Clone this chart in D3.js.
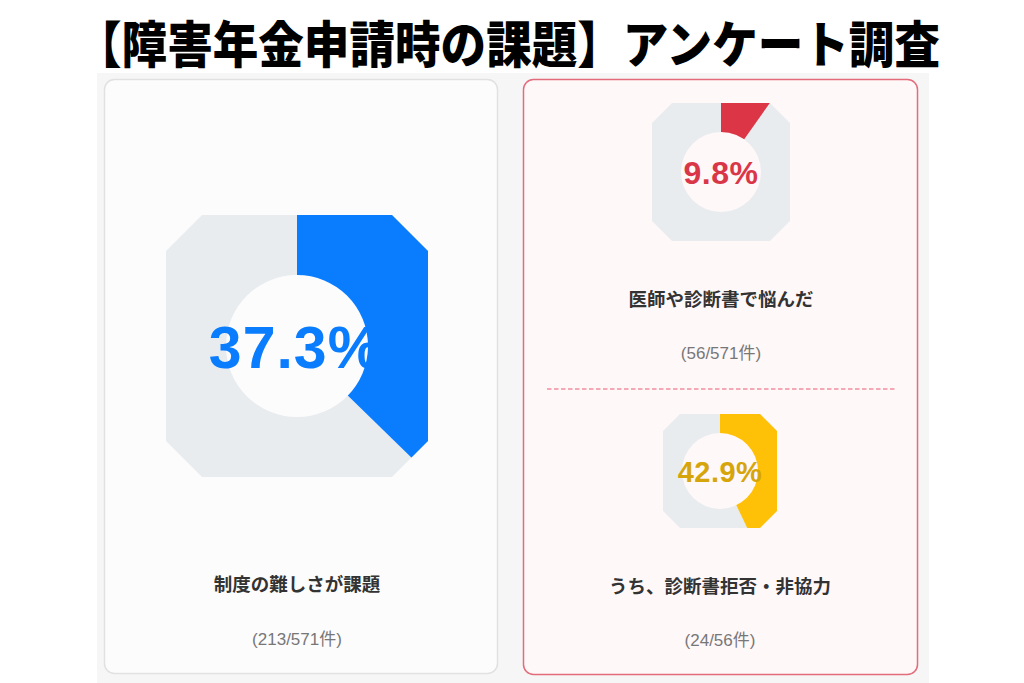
<!DOCTYPE html>
<html>
<head>
<meta charset="utf-8">
<script src="https://cdn.jsdelivr.net/npm/d3@7"></script>
<style>
  body { margin: 0; background: #fff; }
  svg { display: block; }
</style>
</head>
<body>
<svg id="chart" width="1024" height="683"></svg>
<script>
// data
var title = "【障害年金申請時の課題】アンケート調査";
var labels = ["制度の難しさが課題", "医師や診断書で悩んだ", "うち、診断書拒否・非協力"];
var counts = ["(213/571件)", "(56/571件)", "(24/56件)"];
var percents = [37.3, 9.8, 42.9];
var colors = ["#0a7dff", "#dc3545", "#ffc107"];
var textColors = ["#0a7dff", "#d93748", "#d6a50c"];

var svg = d3.select("#chart");
var font = "'Noto Sans CJK JP', 'Noto Sans', sans-serif";
var numFont = "'Liberation Sans', Arial, 'Noto Sans CJK JP', sans-serif";

// grey backdrop
svg.append("rect")
	.attr("x", 97).attr("y", 73)
	.attr("width", 832).attr("height", 620)
	.attr("fill", "#f6f6f6");

// title
svg.append("text")
	.attr("x", 508)
	.attr("y", 63)
	.attr("text-anchor", "middle")
	.attr("font-family", font)
	.attr("font-weight", 900)
	.attr("font-size", 50)
	.attr("textLength", 864)
	.attr("lengthAdjust", "spacingAndGlyphs")
	.attr("fill", "#000")
	.text(title);

// panels
svg.append("rect")
	.attr("x", 104.5).attr("y", 79.5)
	.attr("width", 393).attr("height", 594)
	.attr("rx", 10)
	.attr("fill", "#fcfcfc")
	.attr("stroke", "#e1e1e1")
	.attr("stroke-width", 1.5);

svg.append("rect")
	.attr("x", 523.5).attr("y", 79.5)
	.attr("width", 394).attr("height", 595)
	.attr("rx", 10)
	.attr("fill", "#fff8f9")
	.attr("stroke", "#e36c7b")
	.attr("stroke-width", 1.5);

svg.append("line")
	.attr("x1", 547).attr("x2", 895)
	.attr("y1", 389).attr("y2", 389)
	.attr("stroke", "#f5a9b6")
	.attr("stroke-width", 2)
	.attr("stroke-dasharray", "4.5,2.5");

// donut layout: centre, half size, chamfer, hole radius, font size
var donuts = [
	{ cx: 297, cy: 346, half: 131, cut: 36, hole: 71, fs: 59, ty: 368, ly: 585, cy2: 639 },
	{ cx: 721, cy: 172, half: 69, cut: 20, hole: 40, fs: 32, ty: 184, ly: 300, cy2: 353 },
	{ cx: 720, cy: 471, half: 57, cut: 17, hole: 38, fs: 29, ty: 482, ly: 587, cy2: 640 }
];

var angle = d3.scaleLinear().domain([0, 100]).range([0, 2 * Math.PI]);

donuts.forEach(function (d, i) {
	var h = d.half, c = d.cut;
	var oct = [[-h + c, -h], [h - c, -h], [h, -h + c], [h, h - c],
		[h - c, h], [-h + c, h], [-h, h - c], [-h, -h + c]];

	svg.append("clipPath")
		.attr("id", "oct" + i)
		.append("polygon")
			.attr("points", oct.map(function (p) { return p.join(","); }).join(" "));

	var g = svg.append("g")
		.attr("transform", "translate(" + d.cx + "," + d.cy + ")");

	var ring = g.append("g").attr("clip-path", "url(#oct" + i + ")");

	ring.append("rect")
		.attr("x", -h).attr("y", -h)
		.attr("width", 2 * h).attr("height", 2 * h)
		.attr("fill", "#e9ecef");

	ring.append("path")
		.attr("d", d3.arc()
			.innerRadius(0)
			.outerRadius(h * 1.6)
			.startAngle(0)
			.endAngle(angle(percents[i]))())
		.attr("fill", colors[i]);

	g.append("circle")
		.attr("r", d.hole)
		.attr("fill", i == 0 ? "#fcfcfc" : "#fff8f9");

	svg.append("text")
		.attr("x", d.cx - (i == 0 ? 2 : 0))
		.attr("y", d.ty)
		.attr("text-anchor", "middle")
		.attr("font-family", numFont)
		.attr("font-weight", 700)
		.attr("font-size", d.fs)
		.attr("letter-spacing", i == 0 ? 1 : 0.5)
		.attr("fill", textColors[i])
		.text(percents[i] + "%");

	svg.append("text")
		.attr("x", d.cx)
		.attr("y", d.ly)
		.attr("dy", "0.35em")
		.attr("text-anchor", "middle")
		.attr("font-family", font)
		.attr("font-weight", 700)
		.attr("font-size", 18.5)
		.attr("fill", "#333")
		.text(labels[i]);

	svg.append("text")
		.attr("x", d.cx)
		.attr("y", d.cy2)
		.attr("dy", "0.35em")
		.attr("text-anchor", "middle")
		.attr("font-family", numFont)
		.attr("font-size", 17)
		.attr("fill", "#777")
		.text(counts[i]);
});
</script>
</body>
</html>
